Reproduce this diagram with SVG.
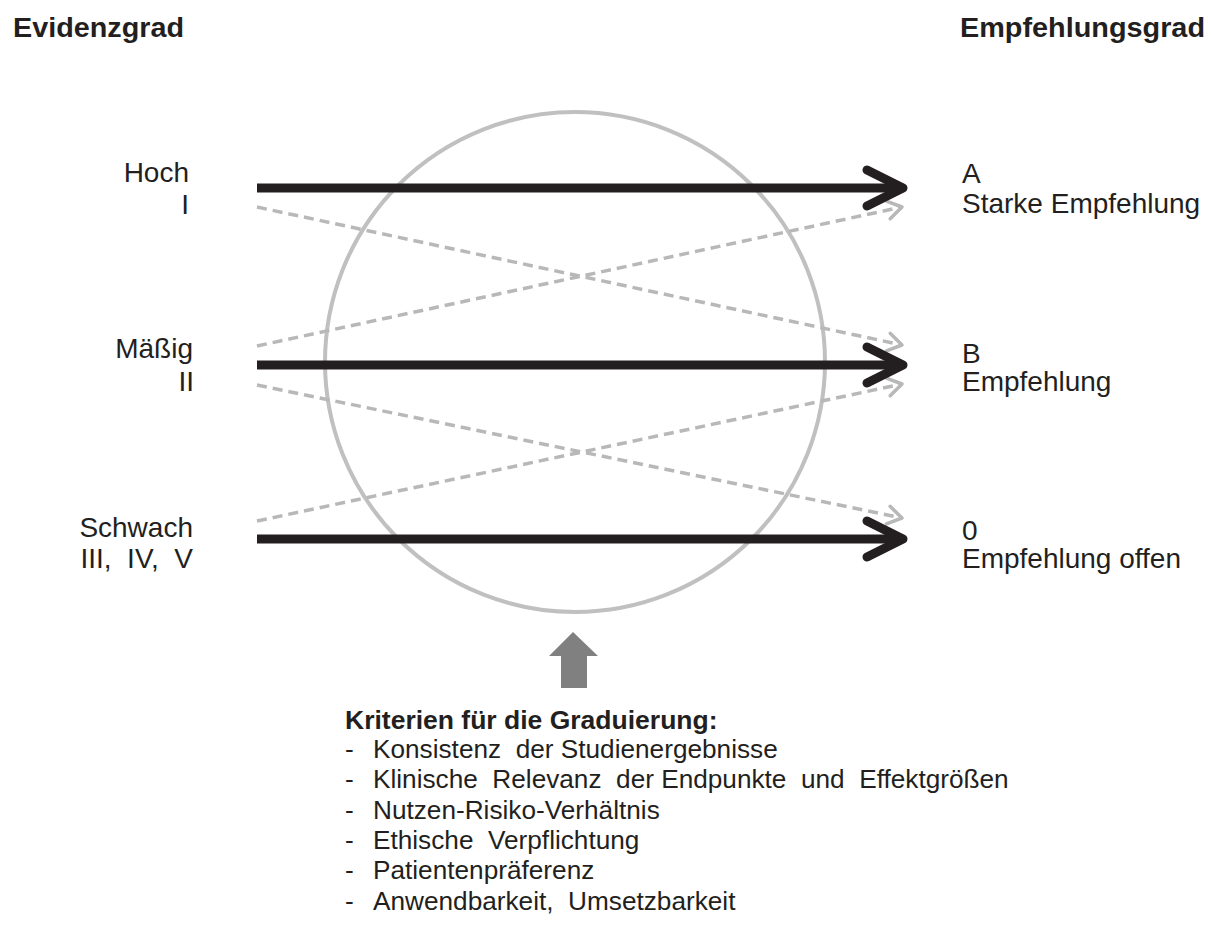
<svg xmlns="http://www.w3.org/2000/svg" width="1212" height="932" viewBox="0 0 1212 932">
<style>
  text { font-family: "Liberation Sans", Arial, sans-serif; fill: #231f20; white-space: pre; }
  .hdr { font-size: 28px; font-weight: bold; }
  .lbl { font-size: 28px; }
  .r { text-anchor: end; }
  .crit { font-size: 26.2px; }
  .critb { font-size: 26.5px; font-weight: bold; }
  .main { stroke: #231f20; stroke-width: 9; fill: none; }
  .head { stroke: #231f20; stroke-width: 9; fill: none; stroke-linecap: round; stroke-linejoin: round; }
  .alt { stroke: #b8b8b8; stroke-width: 3.5; fill: none; stroke-dasharray: 10 6; }
</style>
<defs>
  <marker id="grayhead" markerUnits="userSpaceOnUse" viewBox="-20 -14 24 28" markerWidth="24" markerHeight="28" refX="0" refY="0" orient="auto">
    <path d="M-14,-9 L0,0 L-14,9" fill="none" stroke="#b8b8b8" stroke-width="3.5" stroke-linecap="round" stroke-linejoin="round"/>
  </marker>
</defs>
<rect width="1212" height="932" fill="#ffffff"/>

<g id="circle">
  <circle cx="575" cy="362" r="250" fill="none" stroke="#c0c0c0" stroke-width="4"/>
</g>

<g id="header-left"><text class="hdr" x="13" y="37" textLength="171" lengthAdjust="spacingAndGlyphs">Evidenzgrad</text></g>
<g id="header-right"><text class="hdr" x="960" y="37" textLength="245" lengthAdjust="spacingAndGlyphs">Empfehlungsgrad</text></g>

<g id="ev-hoch">
  <text class="lbl r" x="189" y="182">Hoch</text>
  <text class="lbl r" x="189" y="214">I</text>
</g>
<g id="ev-maessig">
  <text class="lbl r" x="193" y="358">Mäßig</text>
  <text class="lbl r" x="194" y="391">II</text>
</g>
<g id="ev-schwach">
  <text class="lbl r" x="193" y="537">Schwach</text>
  <text class="lbl r" x="193" y="568">III,  IV,  V</text>
</g>

<g id="em-a">
  <text class="lbl" x="962" y="183">A</text>
  <text class="lbl" x="962" y="213">Starke Empfehlung</text>
</g>
<g id="em-b">
  <text class="lbl" x="962" y="363">B</text>
  <text class="lbl" x="962" y="391">Empfehlung</text>
</g>
<g id="em-0">
  <text class="lbl" x="962" y="540">0</text>
  <text class="lbl" x="962" y="568">Empfehlung offen</text>
</g>

<g id="connectors">
  <line class="alt" x1="257" y1="207" x2="902" y2="345" marker-end="url(#grayhead)"/>
  <line class="alt" x1="257" y1="346" x2="902" y2="207" marker-end="url(#grayhead)"/>
  <line class="alt" x1="257" y1="385" x2="902" y2="518" marker-end="url(#grayhead)"/>
  <line class="alt" x1="257" y1="521" x2="902" y2="384" marker-end="url(#grayhead)"/>

  <line class="main" x1="257" y1="188" x2="898" y2="188"/>
  <polyline class="head" points="867,170 903,188 867,206"/>
  <line class="main" x1="257" y1="365" x2="898" y2="365"/>
  <polyline class="head" points="867,347 903,365 867,383"/>
  <line class="main" x1="257" y1="539" x2="898" y2="539"/>
  <polyline class="head" points="867,521 903,539 867,557"/>

  <polygon id="criteria-arrow" points="573,632 598,656 587,656 587,688 561,688 561,656 549,656" fill="#808080"/>
</g>

<g id="criteria">
  <text class="critb" x="345" y="729">Kriterien für die Graduierung:</text>
  <text class="crit" y="758"><tspan x="345">-</tspan><tspan x="373">Konsistenz  der Studienergebnisse</tspan></text>
  <text class="crit" y="788"><tspan x="345">-</tspan><tspan x="373">Klinische  Relevanz  der Endpunkte  und  Effektgrößen</tspan></text>
  <text class="crit" y="819"><tspan x="345">-</tspan><tspan x="373">Nutzen-Risiko-Verhältnis</tspan></text>
  <text class="crit" y="849"><tspan x="345">-</tspan><tspan x="373">Ethische  Verpflichtung</tspan></text>
  <text class="crit" y="879"><tspan x="345">-</tspan><tspan x="373">Patientenpräferenz</tspan></text>
  <text class="crit" y="910"><tspan x="345">-</tspan><tspan x="373">Anwendbarkeit,  Umsetzbarkeit</tspan></text>
</g>
</svg>
